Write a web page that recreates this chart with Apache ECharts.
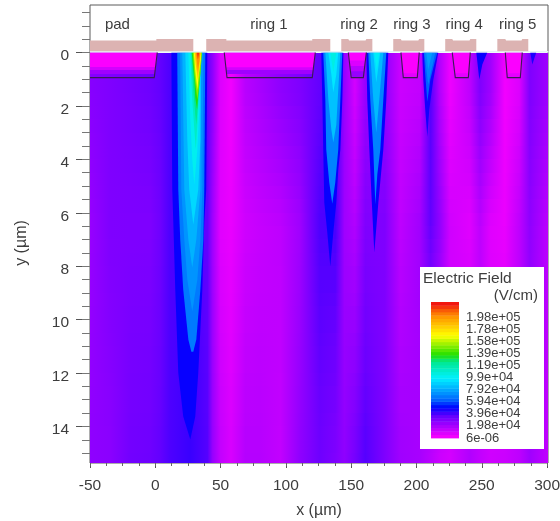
<!DOCTYPE html>
<html><head><meta charset="utf-8">
<style>html,body{margin:0;padding:0;background:#fff}#c{width:560px;height:521px;filter:blur(0.7px)}</style>
<script src="https://cdn.jsdelivr.net/npm/echarts@6/dist/echarts.min.js"></script>
</head><body><div id="c"></div>
<script>
// ---- tick labels ----
const xMajor = [-50,0,50,100,150,200,250,300];
const xMinor = [-50,-37.5,-25,-12.5,0,12.5,25,37.5,50,62.5,75,87.5,100,112.5,125,137.5,150,162.5,175,187.5,200,212.5,225,237.5,250,262.5,275,287.5,300];
const yMajor = [0,2,4,6,8,10,12,14];
const yMinor = [-1.5,-1,-0.5,0,0.5,1,1.5,2,2.5,3,3.5,4,4.5,5,5.5,6,6.5,7,7.5,8,8.5,9,9.5,10,10.5,11,11.5,12,12.5,13,13.5,14,14.5,15];
const legendTicks = [0,19.8,39.6,59.4,79.2,99,119,139,158,178,198];           // kV/cm
const legendTickLabels = ['6e-06','1.98e+04','3.96e+04','5.94e+04','7.92e+04','9.9e+04','1.19e+05','1.39e+05','1.58e+05','1.78e+05','1.98e+05'];
const fieldMax = 222.5;
// ---- colour scale (kV/cm -> colour) ----
const scaleValues = [0,20,35,50,62,73,98,125,136,168,200,221];
const scaleColors = ['#ff00ff','#a800ff','#6a00ff','#0000ff','#0060ff','#0090ff','#00f0ff','#00e890','#20e000','#ffff00','#ff9000','#f01010'];
// ---- background field: columns (x, um) and profile at three depths (kV/cm) ----
const bgX = [-50,-35,-19,-4,4,11,27,40,44,50,58,69,80,96,111,126,138,145,153,161,176,188,203,211,218,226,241,249,257,268,279,287,301];
const bgDepths = [1.5,6.5,15];
const bgUpper = [28,30,32,34,36,39,40,36,26,8,3,16,20,26,30,36,40,24,10,24,26,12,14,38,18,4,15,30,22,3,8,30,22];
const bgMiddle = [24,30,30,30,34,39,40,36,22,7,5,11,13,15,22,39,40,22,18,30,30,15,22,36,26,11,7,15,7,5,15,26,15];
const bgLower = [26,27,33,34,36,39,42,38,24,14,9,17,17,14,26,34,30,26,32,38,30,22,20,16,12,10,18,14,11,12,15,22,14];
// ---- field contours: [level kV/cm, outline in (x um, y um)] ----
const plume1 = [
 [49,[[12.3,0],[13,5.13],[13.8,6.36],[15.3,8.88],[17.6,11.99],[21.4,13.63],[26.8,14.49],[30.6,13.63],[32.9,11.99],[36,8.88],[37.5,6.36],[39,5.13],[39.8,0]]],
 [68,[[16.8,0],[17.6,5.13],[19.1,7],[21.4,8.88],[25.3,10.75],[27.6,11.2],[29.1,11.2],[31.4,10.75],[34.5,8.88],[36.8,7],[37.5,5.13],[38.3,0]]],
 [74,[[19.1,0],[19.9,5.13],[22.2,7],[24.5,8.5],[28.3,9.7],[32.2,8.5],[34.5,7],[36,5.13],[36.8,0]]],
 [82,[[20.7,0],[22.2,5.13],[25.3,7],[28.3,8.05],[31.4,7],[34.5,5.13],[35.2,0]]],
 [92,[[23,0],[24.5,3.26],[26,5.13],[29.1,6.44],[32.9,5.13],[34.5,3.26],[34.8,0]]],
 [102,[[25.3,0],[26.8,2.51],[28.3,4],[29.9,4.94],[32.2,3.63],[33.7,2.13],[34.5,0]]],
 [112,[[26.8,0],[28.3,1.76],[29.9,2.88],[31,3.63],[32.2,2.7],[33.7,1.39],[34.5,0]]],
 [125,[[27.6,0],[29.1,1.39],[30.6,2.32],[31.4,2.7],[32.9,1.76],[34.5,0.64],[35.2,0]]],
 [135,[[27.9,0],[29.9,1.01],[30.6,1.69],[32,2.13],[32.9,1.57],[34.5,0.82],[35.6,0]]],
 [150,[[28.7,0],[29.9,0.82],[31.4,1.46],[32.2,1.76],[33.3,1.31],[34.9,0.56],[35.6,0]]],
 [168,[[29.5,0],[30.6,0.71],[32.2,1.39],[33.3,0.82],[34.9,0.26],[35.2,0]]],
 [185,[[30.2,0],[31,0.45],[32.6,1.01],[33.7,0.56],[34.9,0]]],
 [200,[[31,0],[31.8,0.34],[32.6,0.71],[33.7,0.34],[34.5,0]]],
 [215,[[31.8,0],[32.6,0.26],[33.7,0]]]
];
const plume2 = [
 [49,[[127.1,0],[127.9,1.76],[128.6,3.63],[129.4,5.62],[131.7,6.74],[134,8.01],[136.3,6.74],[138.6,5.62],[140.1,4.38],[141.7,3.63],[143.2,1.76],[144,0]]],
 [70,[[128.6,0],[130.2,1.76],[130.9,3.63],[133.2,4.87],[135.5,5.66],[137.8,4.87],[140.1,3.63],[141.7,1.76],[143.2,0]]],
 [86,[[130.2,0],[132.5,1.76],[134.8,2.88],[136.3,3.37],[138.6,2.7],[140.1,1.39],[141.7,0]]],
 [96,[[132.5,0],[134.8,0.82],[136.3,1.5],[138.6,0.82],[140.1,0]]],
 [105,[[134,0],[136.3,0.75],[138.6,0]]]
];
const plume3 = [
 [49,[[161.6,0],[162.3,1.76],[163.9,3.63],[165.8,5.62],[167.7,7.49],[170.8,5.62],[174.6,3.63],[176.9,1.76],[178.4,0]]],
 [70,[[163.1,0],[164.6,1.76],[166.9,3.63],[168.5,5.69],[170,4.57],[172.3,3.63],[174.6,1.76],[176.9,0]]],
 [84,[[164.6,0],[166.9,1.76],[169.2,3],[171.5,1.76],[174.6,0]]],
 [94,[[166.9,0],[169.2,1.12],[172.3,0]]],
 [100,[[167.7,0],[169.6,0.64],[171.5,0]]]
];
const plume4 = [
 [47,[[204.4,0],[205.2,1.01],[206.7,2.13],[208.3,3.15],[209.8,2.13],[212.9,1.01],[216.7,0]]],
 [62,[[205.6,0],[206.7,0.82],[208.3,1.84],[210.6,1.01],[215.9,0]]],
 [70,[[206,0],[209,1.2],[214.4,0]]],
 [76,[[207.5,0],[209,0.64],[212.1,0]]]
];
const plume5 = [[49,[[245.8,0],[248.1,1.01],[250.4,0.45],[254.2,0]]]];
const plume6 = [[46,[[287.1,0],[288.7,0.45],[291.7,0]]]];
// low-field pockets inside the implanted wells
const wellFields = [
 [22,[[-50,0],[1.5,0],[-0.4,0.8],[-50,0.8]]],
 [10,[[-50,0],[1.5,0],[-0.1,0.65],[-50,0.65]]],
 [1,[[-50,0],[1.5,0],[0.2,0.54],[-50,0.54]]],
 [22,[[52.8,0],[122.5,0],[120.5,0.8],[54.6,0.8]]],
 [10,[[52.8,0],[122.5,0],[120.9,0.65],[54.3,0.65]]],
 [1,[[52.8,0],[122.5,0],[121.2,0.55],[54,0.55]]],
 [24,[[147.8,0],[161.6,0],[159.3,0.94],[150,0.94]]],
 [16,[[147.8,0],[161.6,0],[159.8,0.7],[149.5,0.7]]],
 [8,[[147.8,0],[161.6,0],[160.4,0.5],[149,0.5]]],
 [1,[[147.8,0],[161.6,0],[160.9,0.3],[148.5,0.3]]],
 [6,[[188.1,0],[202.1,0],[200.6,0.94],[189.9,0.94]]],
 [1,[[188.1,0],[202.1,0],[200.9,0.78],[189.6,0.78]]],
 [6,[[227.4,0],[241.2,0],[239.7,0.94],[229.7,0.94]]],
 [1,[[227.4,0],[241.2,0],[240,0.78],[229.3,0.78]]],
 [6,[[268,0],[281,0],[279.5,0.94],[269.5,0.94]]],
 [1,[[268,0],[281,0],[279.8,0.78],[269.2,0.78]]]
];
// ---- device structure ----
const oxide = [[-50,-0.06],[301,-0.06],[301,0],[-50,0]];
const metal = [
 [[-50,-0.05],[-50,-0.45],[0.8,-0.45],[0.8,-0.51],[29.1,-0.51],[29.1,-0.05]],
 [[39,-0.05],[39,-0.51],[54.4,-0.51],[54.4,-0.45],[120.2,-0.45],[120.2,-0.51],[134,-0.51],[134,-0.05]],
 [[142.4,-0.05],[142.4,-0.51],[147.8,-0.51],[148.4,-0.45],[161,-0.45],[161.6,-0.51],[166.2,-0.51],[166.2,-0.05]],
 [[182.2,-0.05],[182.2,-0.51],[188,-0.51],[188.6,-0.45],[201.4,-0.45],[202,-0.51],[206,-0.51],[206,-0.05]],
 [[222,-0.05],[222,-0.51],[227.4,-0.51],[228,-0.45],[240.6,-0.45],[241.2,-0.51],[245.8,-0.51],[245.8,-0.05]],
 [[261.9,-0.05],[261.9,-0.51],[268,-0.51],[268.6,-0.45],[280.4,-0.45],[281,-0.51],[285.6,-0.51],[285.6,-0.05]]
];
const wells = [
 [[-50,0.94],[-0.8,0.94],[1.5,0]],
 [[52.8,0],[54.9,0.94],[120.2,0.94],[122.5,0]],
 [[147.8,0],[150,0.94],[159.3,0.94],[161.6,0]],
 [[188.1,0],[189.9,0.94],[200.6,0.94],[202.1,0]],
 [[227.4,0],[229.7,0.94],[239.7,0.94],[241.2,0]],
 [[268,0],[269.5,0.94],[279.5,0.94],[281,0]]
];
const regionNames = ['pad','ring 1','ring 2','ring 3','ring 4','ring 5'];
const regionX = [-29,87,156,196.5,236.5,277.5];
const regionY = [-1.05,-1.05,-1.05,-1.05,-1.05,-1.05];

const FONT = '"Liberation Sans", Arial, sans-serif';
const INK = '#3d3d3d';

function fieldColor(v){
  for(let i=1;i<scaleValues.length;i++){
    if(v<=scaleValues[i]){
      const t=(v-scaleValues[i-1])/(scaleValues[i]-scaleValues[i-1]);
      return echarts.color.lerp(Math.max(0,t),[scaleColors[i-1],scaleColors[i]]);
    }
  }
  return scaleColors[scaleColors.length-1];
}
const rows = [];
for(let y=0;y<15.36;y+=0.5) rows.push([y,Math.min(y+0.5,15.37)]);
function profileAt(y){
  const d=bgDepths, a=[bgUpper,bgMiddle,bgLower];
  if(y<=d[0]) return a[0];
  const k=y<=d[1]?0:1, t=Math.min(1,(y-d[k])/(d[k+1]-d[k]));
  return a[k].map((v,i)=>v+(a[k+1][i]-v)*t);
}
const contours = [...wellFields,...plume1,...plume2,...plume3,...plume4,...plume5,...plume6];

const legendStripes=[];
for(let i=0;i<41;i++) legendStripes.push([i*fieldMax/41,(i+1)*fieldMax/41]);

const chart = echarts.init(document.getElementById('c'),null,{renderer:'canvas'});
const polyItem=(api,pts,style)=>({type:'polygon',shape:{points:pts.map(p=>api.coord(p))},style});

chart.setOption({
  animation:false,
  backgroundColor:'#fff',
  textStyle:{fontFamily:FONT},
  grid:[
    {left:90,top:5,width:458,height:458,show:true,borderColor:'#5a5a5a',borderWidth:1,backgroundColor:'#fff',outerBoundsMode:'none'},
    {left:431,top:302,width:28,height:136,z:10,outerBoundsMode:'none'}
  ],
  xAxis:[
    {type:'value',gridIndex:0,min:-50,max:300.7,position:'bottom',name:'x (\u00b5m)',nameLocation:'middle',nameGap:40,
     nameTextStyle:{fontSize:16,color:INK,fontFamily:FONT},
     axisLine:{show:false,onZero:false},splitLine:{show:false},
     axisTick:{show:true,length:5,customValues:xMajor,lineStyle:{color:'#555'}},
     axisLabel:{show:true,customValues:xMajor,margin:15,fontSize:15.5,color:INK,fontFamily:FONT,showMinLabel:true,showMaxLabel:true,formatter:v=>String(v)}},
    {type:'value',gridIndex:0,min:-50,max:300.7,position:'bottom',
     axisLine:{show:false,onZero:false},splitLine:{show:false},axisLabel:{show:false},
     axisTick:{show:true,length:3,customValues:xMinor,lineStyle:{color:'#666'}}},
    {type:'value',gridIndex:1,min:0,max:1,show:false}
  ],
  yAxis:[
    {type:'value',gridIndex:0,inverse:true,min:-1.78,max:15.37,position:'left',
     axisLine:{show:false,onZero:false},splitLine:{show:false},
     axisTick:{show:true,length:14,customValues:yMajor,lineStyle:{color:'#555'}},
     axisLabel:{show:true,customValues:yMajor,margin:21,showMinLabel:true,showMaxLabel:true,
       formatter:v=>'{a|'+v+'}',rich:{a:{padding:[7,0,0,0],fontSize:15.5,color:INK,fontFamily:FONT}}}},
    {type:'value',gridIndex:0,inverse:true,min:-1.78,max:15.37,position:'left',
     axisLine:{show:false,onZero:false},splitLine:{show:false},axisLabel:{show:false},
     axisTick:{show:true,length:8,customValues:yMinor,lineStyle:{color:'#777'}}},
    {type:'value',gridIndex:1,min:0,max:fieldMax,position:'right',show:false}
  ],
  graphic:[
    {type:'rect',z:8,shape:{x:420,y:267,width:124,height:182},style:{fill:'#fff'}},
    {type:'text',z:9,style:{x:423,y:279,text:'Electric Field',font:'15.5px '+FONT,fill:INK,textVerticalAlign:'middle'}},
    {type:'text',z:9,style:{x:538,y:296,text:'(V/cm)',font:'15px '+FONT,fill:INK,textAlign:'right',textVerticalAlign:'middle'}},
    {type:'text',z:9,x:22,y:243,rotation:Math.PI/2,style:{text:'y (\u00b5m)',font:'16px '+FONT,fill:INK,textAlign:'center',textVerticalAlign:'middle'}}
  ],
  series:[
    {type:'custom',xAxisIndex:0,yAxisIndex:0,coordinateSystem:'cartesian2d',silent:true,z:2,clip:true,
     data:rows,
     renderItem:(p,api)=>{
       const r=rows[p.dataIndex];
       const a=api.coord([bgX[0],r[0]]), b=api.coord([bgX[bgX.length-1],r[1]]);
       const vals=profileAt((r[0]+r[1])/2);
       const L=bgX[bgX.length-1]-bgX[0];
       const stops=bgX.map((x,i)=>({offset:(x-bgX[0])/L,color:fieldColor(vals[i])}));
       const x0=Math.round(a[0]),y0=Math.round(a[1]),x1=Math.round(b[0]),y1=Math.round(b[1]);
       return {type:'rect',shape:{x:x0,y:y0,width:x1-x0,height:y1-y0+1},
         style:{fill:new echarts.graphic.LinearGradient(0,0,1,0,stops)}};
     }},
    {type:'custom',xAxisIndex:0,yAxisIndex:0,silent:true,z:3,
     data:contours.map((c,i)=>[i]),
     renderItem:(p,api)=>{const c=contours[p.dataIndex];return polyItem(api,c[1],{fill:fieldColor(c[0])});}},
    {type:'custom',xAxisIndex:0,yAxisIndex:0,silent:true,z:4,
     data:[0],
     renderItem:(p,api)=>polyItem(api,oxide,{fill:'#e4f4f6'})},
    {type:'custom',xAxisIndex:0,yAxisIndex:0,silent:true,z:5,
     data:metal.map((c,i)=>[i]),
     renderItem:(p,api)=>polyItem(api,metal[p.dataIndex],{fill:'#dcb3b2'})},
    {type:'custom',xAxisIndex:0,yAxisIndex:0,silent:true,z:6,
     data:wells.map((c,i)=>[i]),
     renderItem:(p,api)=>({type:'polyline',shape:{points:wells[p.dataIndex].map(q=>api.coord(q))},
       style:{fill:null,stroke:'#3b1a55',lineWidth:1.1}})},
    {type:'custom',xAxisIndex:0,yAxisIndex:0,silent:true,z:7,
     data:regionNames.map((c,i)=>[regionX[i],regionY[i]]),
     renderItem:(p,api)=>{const c=api.coord([regionX[p.dataIndex],regionY[p.dataIndex]]);
       return {type:'text',style:{x:c[0],y:c[1],text:regionNames[p.dataIndex],font:'15px '+FONT,fill:INK,textAlign:'center',textVerticalAlign:'middle'}};}},
    {type:'custom',xAxisIndex:2,yAxisIndex:2,silent:true,z:10,
     data:legendStripes,
     renderItem:(p,api)=>{
       const s=legendStripes[p.dataIndex];
       const a=api.coord([0,s[1]]),b=api.coord([1,s[0]]);
       return {type:'rect',shape:{x:a[0],y:a[1],width:b[0]-a[0],height:b[1]-a[1]+0.4},
         style:{fill:fieldColor((s[0]+s[1])/2)}};
     }},
    {type:'custom',xAxisIndex:2,yAxisIndex:2,silent:true,z:11,clip:false,
     data:legendTicks.map((t,i)=>[1,t]),
     renderItem:(p,api)=>{
       const c=api.coord([1,legendTicks[p.dataIndex]]);
       return {type:'text',style:{x:c[0]+7,y:c[1],text:legendTickLabels[p.dataIndex],font:'13px '+FONT,fill:INK,textAlign:'left',textVerticalAlign:'middle'}};
     }}
  ]
});
</script></body></html>
